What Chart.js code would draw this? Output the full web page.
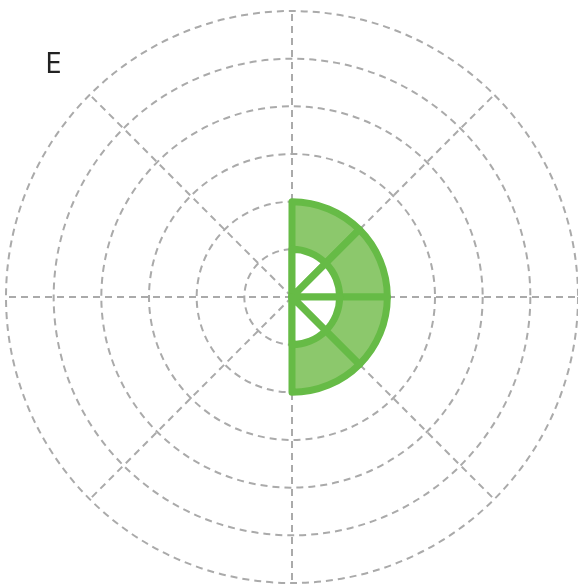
<!DOCTYPE html>
<html lang="en">
<head>
  <meta charset="UTF-8">
  <title>E</title>
  <script src="https://cdn.jsdelivr.net/npm/chart.js@4"></script>
  <style>
    html, body {
      margin: 0;
      padding: 0;
      background: #fff;
    }
    .wrap {
      position: relative;
      width: 578px;
      height: 586px;
    }
    .label {
      position: absolute;
      left: 45px;
      top: 47px;
      font-family: "Open Sans", sans-serif;
      font-size: 30px;
      line-height: 30px;
      color: #222;
    }
  </style>
</head>
<body>
  <div class="wrap">
    <canvas id="chart" width="578" height="586"></canvas>
    <div class="label">E</div>
  </div>
  <script>
    // 8 directions, clockwise from the top
    const categories = ['N', 'NE', 'E', 'SE', 'S', 'SW', 'W', 'NW'];
    const innerValues = [1, 1, 1, 1, 0, 0, 0, 0];
    const outerValues = [2, 2, 2, 2, 0, 0, 0, 0];
    const ringMax = 6;

    const green = '#66bb46';
    const greenFill = '#8cc86c';
    const gridGrey = '#aaa';
    const dash = [7, 5];
    const widths = (vals) => vals.map((v) => (v > 0 ? 7 : 0));

    new Chart(document.getElementById('chart'), {
      type: 'polarArea',
      data: {
        labels: categories,
        datasets: [
          {
            // inner wedges sit on top and hide the grid
            data: innerValues,
            backgroundColor: '#fff',
            borderColor: green,
            borderWidth: widths(innerValues),
            borderJoinStyle: 'round',
          },
          {
            data: outerValues,
            backgroundColor: greenFill,
            borderColor: green,
            borderWidth: widths(outerValues),
            borderJoinStyle: 'round',
          },
        ],
      },
      options: {
        responsive: false,
        animation: false,
        layout: { padding: { left: 6, right: 0, top: 11, bottom: 3 } },
        plugins: {
          legend: { display: false },
          tooltip: { enabled: false },
        },
        scales: {
          r: {
            min: 0,
            max: ringMax,
            ticks: { display: false, stepSize: 1 },
            grid: {
              circular: true,
              color: gridGrey,
              lineWidth: 2,
            },
            // v4 reads the ring dash from border
            border: { dash: dash },
            angleLines: {
              display: true,
              color: gridGrey,
              lineWidth: 2,
              borderDash: dash,
            },
            pointLabels: { display: false },
          },
        },
      },
    });
  </script>
</body>
</html>
